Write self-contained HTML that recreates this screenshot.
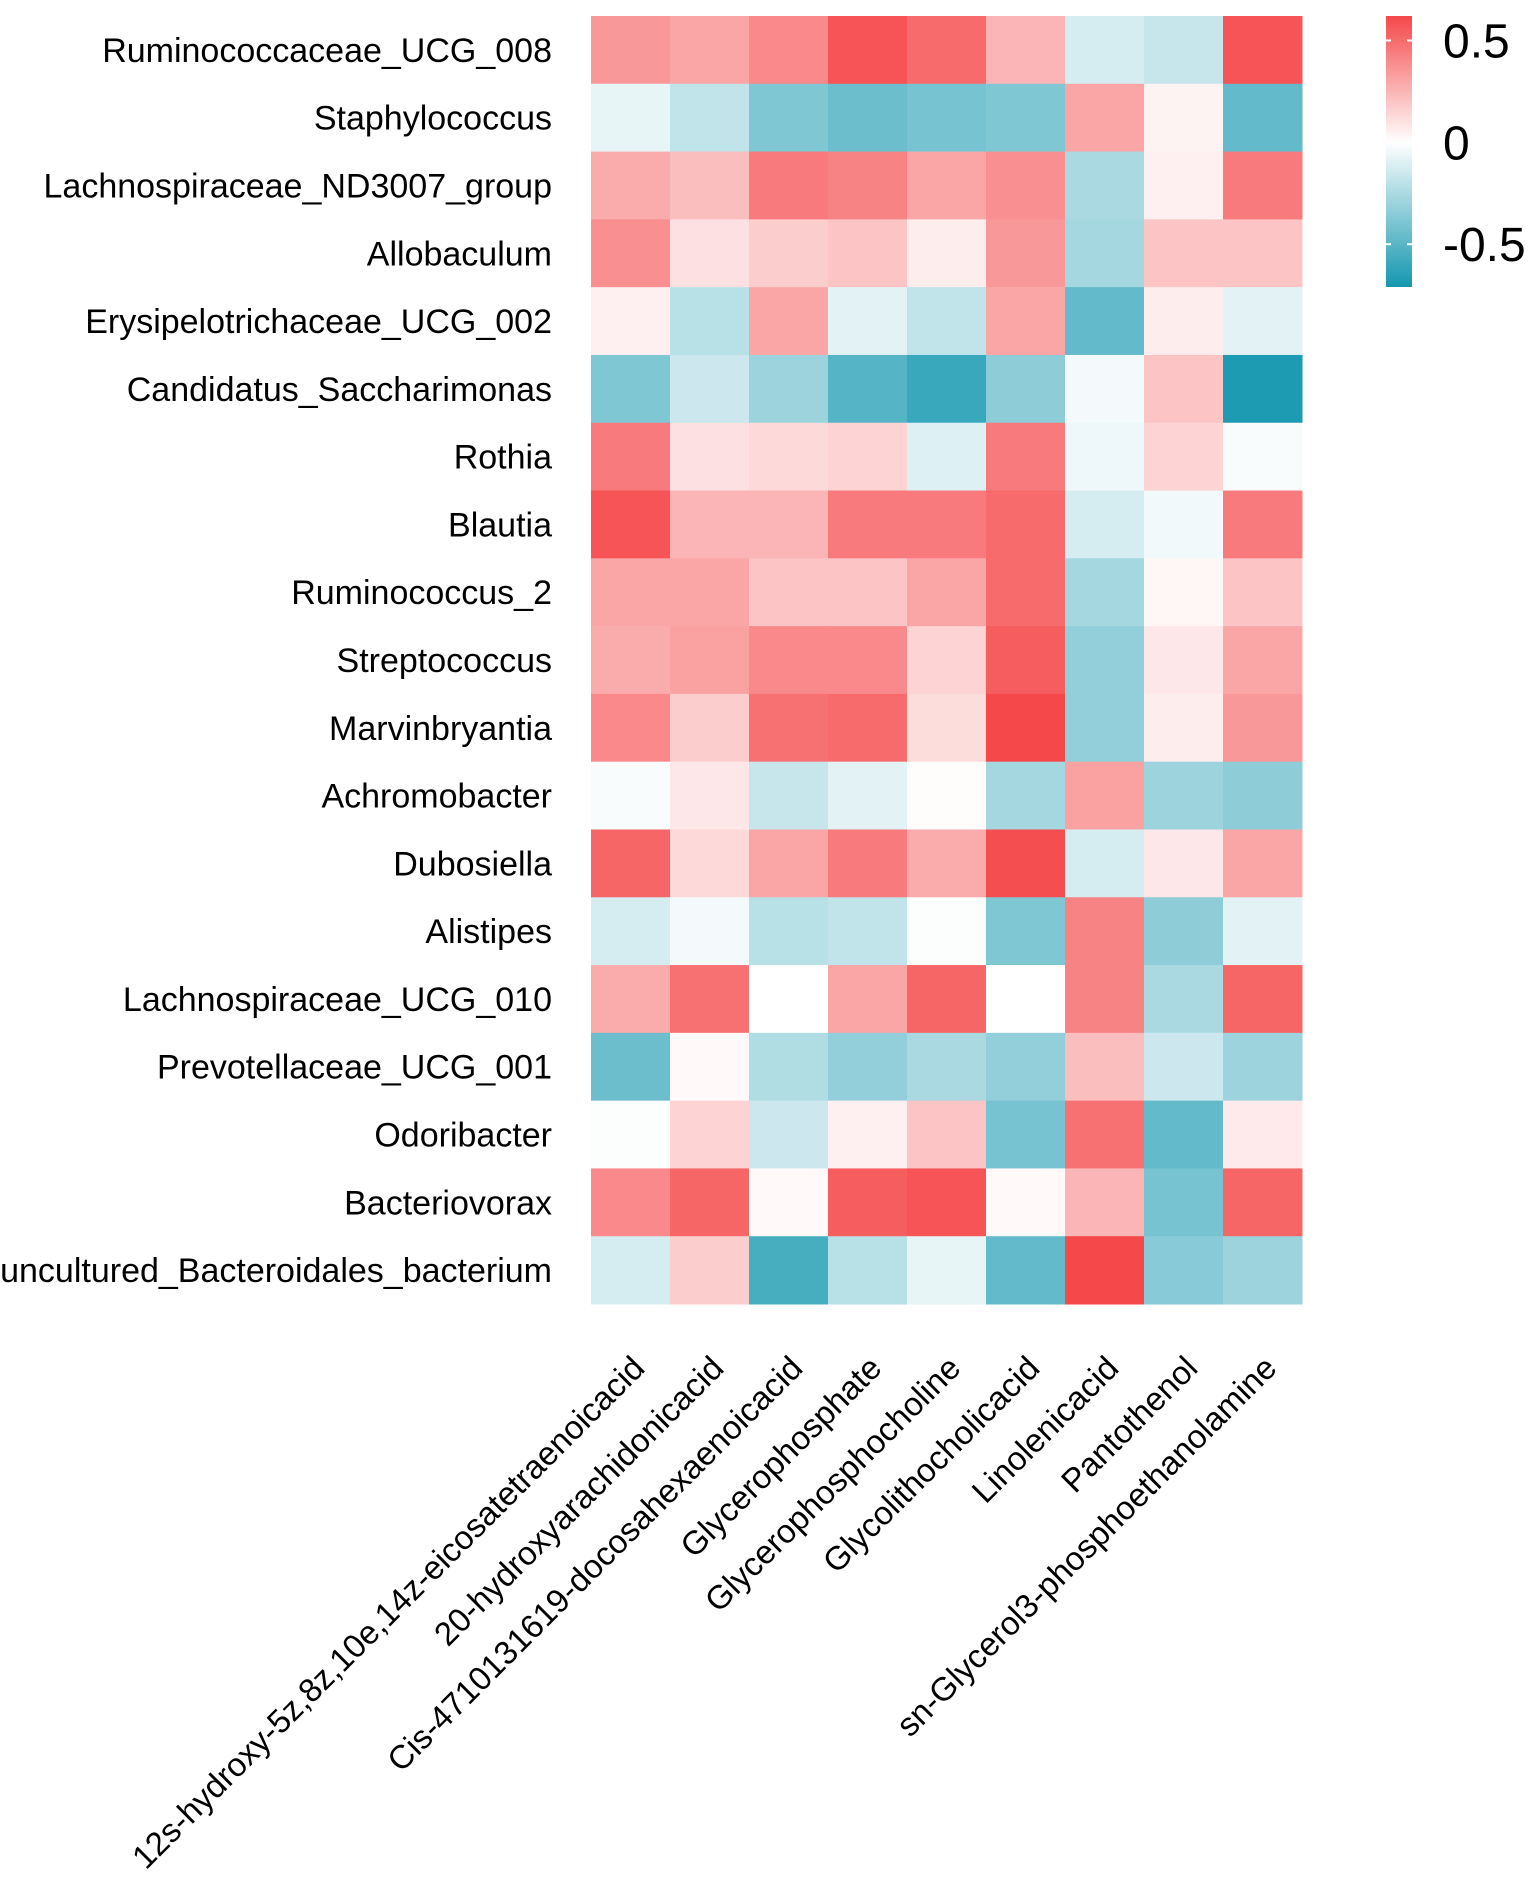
<!DOCTYPE html>
<html><head><meta charset="utf-8"><style>
html,body{margin:0;padding:0;background:#fff;}
svg text{font-family:"Liberation Sans",Arial,sans-serif;fill:#000;}
</style></head><body>
<svg id="chart" width="1535" height="1880" viewBox="0 0 1535 1880" xmlns="http://www.w3.org/2000/svg">
<defs>
<linearGradient id="lg" x1="0" y1="0" x2="0" y2="1">
<stop offset="0" stop-color="#F5484A"/>
<stop offset="0.466" stop-color="#ffffff"/>
<stop offset="1" stop-color="#1497AF"/>
</linearGradient>
</defs>
<g id="cells"></g>
<g id="rowlabels"></g>
<g id="collabels"></g>
<g id="legend"></g>
</svg>
<script>
const rows = ["Ruminococcaceae_UCG_008","Staphylococcus","Lachnospiraceae_ND3007_group","Allobaculum","Erysipelotrichaceae_UCG_002","Candidatus_Saccharimonas","Rothia","Blautia","Ruminococcus_2","Streptococcus","Marvinbryantia","Achromobacter","Dubosiella","Alistipes","Lachnospiraceae_UCG_010","Prevotellaceae_UCG_001","Odoribacter","Bacteriovorax","uncultured_Bacteroidales_bacterium"];
const cols = ["12s-hydroxy-5z,8z,10e,14z-eicosatetraenoicacid","20-hydroxyarachidonicacid","Cis-471013161­9-docosahexaenoicacid".replace('\u00ad',''),"Glycerophosphate","Glycerophosphocholine","Glycolithocholicacid","Linolenicacid","Pantothenol","sn-Glycerol3-phosphoethanolamine"];
const values = [
[0.35,0.3,0.4,0.58,0.5,0.25,-0.15,-0.2,0.58],
[-0.08,-0.22,-0.45,-0.52,-0.48,-0.45,0.3,0.04,-0.55],
[0.28,0.22,0.45,0.42,0.3,0.38,-0.3,0.05,0.45],
[0.38,0.1,0.17,0.2,0.06,0.35,-0.32,0.2,0.2],
[0.05,-0.25,0.3,-0.1,-0.22,0.3,-0.55,0.06,-0.1],
[-0.45,-0.18,-0.35,-0.6,-0.7,-0.4,-0.04,0.2,-0.8],
[0.45,0.1,0.13,0.15,-0.12,0.45,-0.06,0.15,-0.02],
[0.58,0.25,0.25,0.45,0.45,0.5,-0.15,-0.05,0.45],
[0.3,0.3,0.2,0.2,0.3,0.5,-0.32,0.03,0.2],
[0.28,0.32,0.4,0.4,0.15,0.55,-0.38,0.08,0.3],
[0.4,0.17,0.48,0.5,0.12,0.62,-0.38,0.06,0.35],
[-0.02,0.08,-0.2,-0.1,0.01,-0.32,0.32,-0.35,-0.4],
[0.52,0.13,0.3,0.45,0.28,0.6,-0.15,0.08,0.3],
[-0.15,-0.04,-0.25,-0.22,-0.01,-0.45,0.42,-0.4,-0.1],
[0.28,0.48,0.0,0.3,0.52,0.0,0.42,-0.3,0.52],
[-0.52,0.02,-0.28,-0.38,-0.3,-0.38,0.22,-0.18,-0.35],
[-0.01,0.15,-0.18,0.05,0.2,-0.48,0.48,-0.55,0.07],
[0.4,0.52,0.02,0.55,0.58,0.02,0.25,-0.48,0.52],
[-0.15,0.17,-0.65,-0.25,-0.08,-0.55,0.62,-0.42,-0.35]
];
const legendTicks = [0.5,0,-0.5];
const legendTickLabels = ["0.5","0","-0.5"];

const NS="http://www.w3.org/2000/svg";
const X0=591,X1=1302,Y0=16,Y1=1304;
const cw=(X1-X0)/cols.length, ch=(Y1-Y0)/rows.length;
const xPos=i=>X0+i*cw, yPos=j=>Y0+j*ch;
function mix(a,b,t){return a.map((v,i)=>Math.round(v+(b[i]-v)*t));}
function color(v){
  const w=[255,255,255];
  let c = v>=0 ? mix(w,[245,72,74],Math.min(1,v/0.62)) : mix(w,[20,151,175],Math.min(1,-v/0.83));
  return `rgb(${c[0]},${c[1]},${c[2]})`;
}
function mk(tag,attrs,parent){const e=document.createElementNS(NS,tag);for(const k in attrs)e.setAttribute(k,attrs[k]);parent.appendChild(e);return e;}
const gC=document.getElementById('cells'),gR=document.getElementById('rowlabels'),gX=document.getElementById('collabels'),gL=document.getElementById('legend');
values.forEach((row,j)=>row.forEach((v,i)=>{
  const r=mk('rect',{x:xPos(i),y:yPos(j),width:cw+0.5,height:ch+0.5,fill:color(v)},gC);
  
  
}));
rows.forEach((n,j)=>{
  const t=mk('text',{x:552,y:yPos(j)+ch/2+12,'text-anchor':'end','font-size':34},gR);
  t.textContent=n;
  
  
});
cols.forEach((n,i)=>{
  const ax=xPos(i)+cw/2+16, ay=1370;
  const t=mk('text',{x:ax,y:ay,'text-anchor':'end','font-size':33,transform:`rotate(-45 ${ax} ${ay})`},gX);
  t.textContent=n;
  
  
});
// legend
const LT=16,LB=287,vTop=0.62,vBot=-0.71;
const ly=v=>LT+(vTop-v)/(vTop-vBot)*(LB-LT);
const bar=mk('rect',{x:1386,y:LT,width:26,height:LB-LT,fill:'url(#lg)'},gL);


legendTicks.forEach((v,k)=>{
  const y=ly(v);
  mk('line',{x1:1386,x2:1391,y1:y,y2:y,stroke:'#fff','stroke-width':2},gL);
  mk('line',{x1:1407,x2:1412,y1:y,y2:y,stroke:'#fff','stroke-width':2},gL);
  const t=mk('text',{x:1443,y:y+17,'font-size':48},gL);
  t.textContent=legendTickLabels[k];
  
  
});
</script>
</body></html>
